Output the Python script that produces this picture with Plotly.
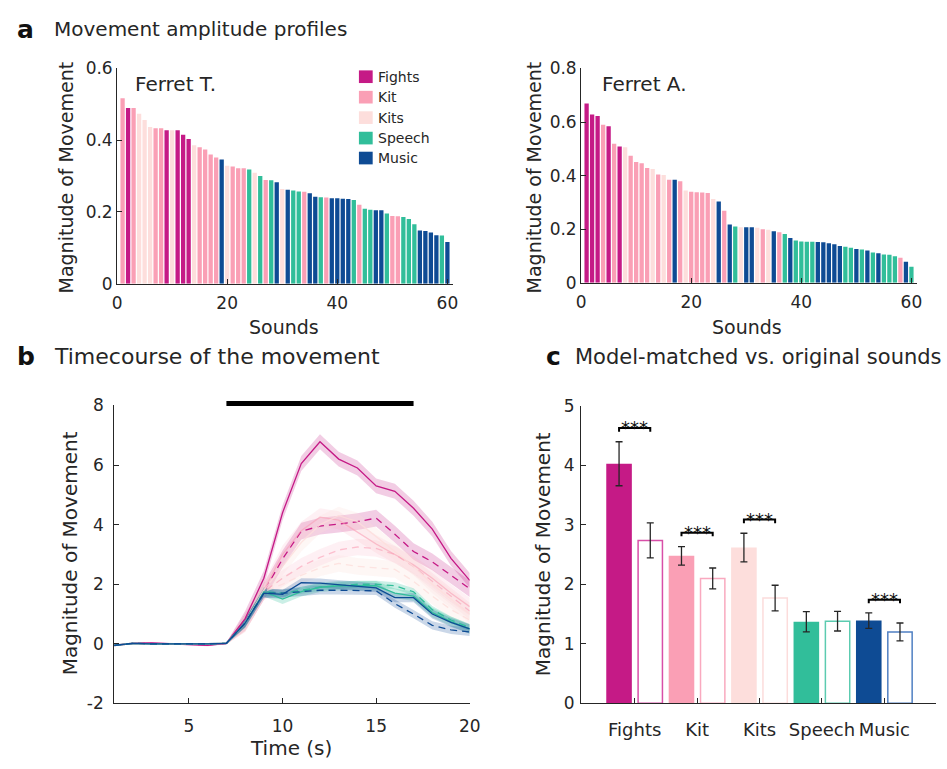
import plotly.graph_objects as go

W, H = 947, 769
FONT = "DejaVu Sans"
AX = "#262626"


def px(x):
    return x / W


def py(y):
    return 1 - y / H


# ---------------- data ----------------
CATEGORIES = ["Fights", "Kit", "Kits", "Speech", "Music"]
COLORS = {"Fights": "#C51A86", "Kit": "#FA9FB5", "Kits": "#FDDEDC",
          "Speech": "#31BE9A", "Music": "#0E4B94"}
OPEN_EDGE = {"Fights": "#D84FA8", "Kit": "#F9A9BF", "Kits": "#FCDCDB",
             "Speech": "#5CCBB0", "Music": "#4F7FC2"}
CODE = {"F": "Fights", "K": "Kit", "L": "Kits", "S": "Speech", "M": "Music"}

SOUND_INDEX = list(range(1, 61))

FERRET_T_CAT = list("KFKLLLKKFLFFFLKKKKMLKKKSLSKSMLMSSKMMSKMMMMSKSSMMSKKSSSMMMMSM")
FERRET_T_VAL = [0.517, 0.49, 0.49, 0.474, 0.456, 0.437, 0.433, 0.433, 0.428, 0.428,
                0.428, 0.415, 0.403, 0.386, 0.38, 0.374, 0.36, 0.352, 0.346, 0.329,
                0.327, 0.322, 0.322, 0.318, 0.309, 0.3, 0.289, 0.288, 0.283, 0.264,
                0.262, 0.26, 0.257, 0.256, 0.252, 0.242, 0.241, 0.24, 0.238, 0.238,
                0.237, 0.236, 0.233, 0.22, 0.209, 0.206, 0.205, 0.205, 0.196, 0.189,
                0.188, 0.186, 0.18, 0.166, 0.148, 0.147, 0.143, 0.135, 0.134, 0.116]

FERRET_A_CAT = list("FFFKFKFLKKKKLKLKMKLKKKKLMKMSLMMLKLMKSMSSSSMMMMMSSMSMSMSSSKMS")
FERRET_A_VAL = [0.669, 0.628, 0.622, 0.59, 0.584, 0.519, 0.509, 0.506, 0.474, 0.451,
                0.446, 0.428, 0.425, 0.404, 0.402, 0.384, 0.384, 0.379, 0.344, 0.34,
                0.338, 0.337, 0.335, 0.313, 0.303, 0.269, 0.217, 0.21, 0.207, 0.207,
                0.207, 0.205, 0.2, 0.198, 0.192, 0.188, 0.182, 0.167, 0.158, 0.154,
                0.153, 0.153, 0.152, 0.151, 0.147, 0.144, 0.137, 0.134, 0.131, 0.126,
                0.124, 0.12, 0.113, 0.11, 0.105, 0.104, 0.099, 0.093, 0.078, 0.06]

TIME_S = list(range(1, 21))
STIM_ON, STIM_OFF = 7, 17

FIGHTS_ORIG = [-0.05, 0.02, 0.03, 0.0, -0.02, -0.05, 0.02, 0.85, 2.2, 4.4,
               6.05, 6.78, 6.2, 5.9, 5.3, 5.12, 4.55, 3.85, 2.87, 2.13]
FIGHTS_MM = [-0.05, 0.02, 0.01, 0.0, -0.01, -0.03, 0.02, 0.72, 1.75, 2.85,
             3.78, 3.95, 4.02, 4.1, 4.22, 3.68, 3.1, 2.75, 2.3, 1.85]
KIT_ORIG = [-0.05, 0.02, 0.0, -0.01, 0.0, 0.0, 0.02, 0.7, 1.8, 3.0,
            3.8, 4.25, 4.15, 3.75, 3.35, 3.0, 2.65, 2.2, 1.7, 1.25]
KIT_MM = [-0.05, 0.02, 0.0, -0.01, 0.0, 0.0, 0.02, 0.7, 1.75, 2.2,
          2.6, 2.9, 3.15, 3.25, 3.2, 3.0, 2.6, 2.1, 1.6, 1.1]
KITS_ORIG = [-0.05, 0.02, 0.0, -0.01, 0.0, 0.0, 0.02, 0.7, 1.8, 2.6,
             3.4, 4.0, 4.3, 4.1, 3.6, 3.1, 2.6, 2.0, 1.5, 1.0]
KITS_MM = [-0.05, 0.02, 0.0, -0.01, 0.0, 0.0, 0.02, 0.7, 1.75, 2.0,
           2.3, 2.55, 2.7, 2.6, 2.55, 2.5, 2.1, 1.6, 1.15, 0.8]
SPEECH_ORIG = [-0.05, 0.02, 0.0, -0.01, 0.0, 0.0, 0.02, 0.7, 1.75, 1.5,
               1.75, 1.9, 1.95, 1.95, 1.95, 1.7, 1.6, 1.05, 0.75, 0.5]
SPEECH_MM = [-0.05, 0.02, 0.0, -0.01, 0.0, 0.0, 0.02, 0.7, 1.75, 1.7,
             1.8, 1.9, 1.95, 2.0, 2.0, 1.95, 1.75, 1.15, 0.8, 0.55]
MUSIC_ORIG = [-0.05, 0.02, 0.0, -0.01, 0.0, 0.0, 0.02, 0.7, 1.7, 1.66,
              2.05, 2.04, 1.99, 1.93, 1.88, 1.55, 1.55, 1.0, 0.72, 0.5]
MUSIC_MM = [-0.05, 0.02, 0.0, -0.01, 0.0, 0.0, 0.02, 0.7, 1.7, 1.7,
            1.75, 1.8, 1.8, 1.8, 1.78, 1.35, 1.0, 0.62, 0.47, 0.4]

# band half-widths (baseline, response)
SEM_BASE = 0.03
SEM_RESP = {"Fights": (0.25, 0.28), "Kit": (0.3, 0.28), "Kits": (0.3, 0.28),
            "Speech": (0.16, 0.12), "Music": (0.15, 0.14)}

ORIG_MEAN = [4.03, 2.48, 2.62, 1.37, 1.39]
ORIG_ERR = [0.37, 0.155, 0.24, 0.17, 0.13]
MM_MEAN = [2.74, 2.10, 1.77, 1.38, 1.20]
MM_ERR = [0.295, 0.175, 0.215, 0.165, 0.15]
SIG_GROUPS = [1, 2, 3, 5]
SIG_HEIGHT = [4.63, 2.87, 3.09, 1.74]

# ---------------- figure ----------------
fig = go.Figure()


def rgba(hexc, a):
    h = hexc.lstrip("#")
    r, g, b = int(h[0:2], 16), int(h[2:4], 16), int(h[4:6], 16)
    return f"rgba({r},{g},{b},{a})"


# panel a bars
for cats, vals, xa, ya in [(FERRET_T_CAT, FERRET_T_VAL, "x", "y"),
                           (FERRET_A_CAT, FERRET_A_VAL, "x2", "y2")]:
    fig.add_trace(go.Bar(x=SOUND_INDEX, y=vals, width=0.78,
                         marker=dict(color=[COLORS[CODE[c]] for c in cats], line=dict(width=0)),
                         xaxis=xa, yaxis=ya, showlegend=False))

# panel b timecourses
series = [("Fights", FIGHTS_ORIG, "solid", 1.0), ("Fights", FIGHTS_MM, "dash", 1.0),
          ("Kit", KIT_ORIG, "solid", 0.6), ("Kit", KIT_MM, "dash", 0.6),
          ("Kits", KITS_ORIG, "solid", 0.8), ("Kits", KITS_MM, "dash", 0.8),
          ("Speech", SPEECH_ORIG, "solid", 1.0), ("Speech", SPEECH_MM, "dash", 1.0),
          ("Music", MUSIC_ORIG, "solid", 1.0), ("Music", MUSIC_MM, "dash", 1.0)]
band_alpha = {"Fights": 0.22, "Kit": 0.15, "Kits": 0.25, "Speech": 0.25, "Music": 0.22}
for cat, vals, dash, op in series:
    s = SEM_RESP[cat][0 if dash == "solid" else 1]
    sem = [SEM_BASE if t < 8 else s for t in TIME_S]
    up = [v + e for v, e in zip(vals, sem)]
    lo = [v - e for v, e in zip(vals, sem)]
    fig.add_trace(go.Scatter(x=TIME_S + TIME_S[::-1], y=up + lo[::-1], fill="toself",
                             fillcolor=rgba(COLORS[cat], band_alpha[cat]), line=dict(width=0),
                             hoverinfo="skip", xaxis="x3", yaxis="y3", showlegend=False))
for cat, vals, dash, op in series:
    fig.add_trace(go.Scatter(x=TIME_S, y=vals, mode="lines",
                             line=dict(color=COLORS[cat], width=1.3, dash=dash if dash == "solid" else "7px,5px"),
                             opacity=op, xaxis="x3", yaxis="y3", showlegend=False))

# panel c bars
grp = list(range(1, 6))
fig.add_trace(go.Bar(x=[g - 0.25 for g in grp], y=ORIG_MEAN, width=0.41,
                     marker=dict(color=[COLORS[c] for c in CATEGORIES], line=dict(width=0)),
                     error_y=dict(type="data", array=ORIG_ERR, color=AX, thickness=1.3, width=3.5),
                     xaxis="x4", yaxis="y4", showlegend=False))
fig.add_trace(go.Bar(x=[g + 0.25 for g in grp], y=MM_MEAN, width=0.39,
                     marker=dict(color="white", line=dict(width=1.5, color=[OPEN_EDGE[c] for c in CATEGORIES])),
                     error_y=dict(type="data", array=MM_ERR, color=AX, thickness=1.3, width=3.5),
                     xaxis="x4", yaxis="y4", showlegend=False))

annotations = []
for g, h in zip(SIG_GROUPS, SIG_HEIGHT):
    fig.add_trace(go.Scatter(x=[g - 0.25, g - 0.25, g + 0.25, g + 0.25],
                             y=[h - 0.06, h, h, h - 0.06], mode="lines",
                             line=dict(color="black", width=2), xaxis="x4", yaxis="y4",
                             showlegend=False, cliponaxis=False))
    annotations.append(dict(x=g, y=h, xref="x4", yref="y4", text="***", showarrow=False,
                            yanchor="bottom", yshift=-12, font=dict(family=FONT, size=18, color="#111111")))


def ax(**kw):
    d = dict(showline=True, linecolor=AX, linewidth=1, ticks="inside", ticklen=5,
             tickcolor=AX, tickwidth=1, showgrid=False, zeroline=False, mirror=False,
             tickfont=dict(family=FONT, size=17, color=AX), fixedrange=True)
    d.update(kw)
    return d


fig.update_layout(
    width=W, height=H, margin=dict(l=0, r=0, t=0, b=0),
    paper_bgcolor="white", plot_bgcolor="white", barmode="overlay",
    font=dict(family=FONT, color=AX),
    xaxis=ax(domain=[px(114), px(455.6)], range=[0, 61], tickvals=[0, 20, 40, 60], anchor="y",
             ticklabelstandoff=4),
    yaxis=ax(domain=[py(281), py(60)], range=[0, 0.6], tickvals=[0, 0.2, 0.4, 0.6],
             ticktext=["0", "0.2", "0.4", "0.6"], anchor="x"),
    xaxis2=ax(domain=[px(586), px(927.6)], range=[0, 61], tickvals=[0, 20, 40, 60], anchor="y2",
              ticklabelstandoff=4),
    yaxis2=ax(domain=[py(280), py(60)], range=[0, 0.8], tickvals=[0, 0.2, 0.4, 0.6, 0.8],
              ticktext=["0", "0.2", "0.4", "0.6", "0.8"], anchor="x2"),
    xaxis3=ax(domain=[px(111), px(472.7)], range=[1, 20], tickvals=[5, 10, 15, 20], anchor="y3",
              ticklabelstandoff=7),
    yaxis3=ax(domain=[py(712), py(406)], range=[-2, 8], tickvals=[-2, 0, 2, 4, 6, 8],
              ticktext=["-2", "0", "2", "4", "6", "8"], anchor="x3", ticklabelstandoff=6),
    xaxis4=ax(domain=[px(586), 1.0], range=[0.142, 5.827], tickvals=grp, ticktext=CATEGORIES,
              tickfont=dict(family=FONT, size=18, color=AX), anchor="y4", ticklabelstandoff=10),
    yaxis4=ax(domain=[py(711.7), py(406.7)], range=[0, 5], tickvals=[0, 1, 2, 3, 4, 5], anchor="x4",
              ticklabelstandoff=2),
)


def text(x, y, s, size=20, xanchor="left", angle=0, bold=False, yanchor="middle"):
    annotations.append(dict(x=px(x), y=py(y), xref="paper", yref="paper", text=f"<b>{s}</b>" if bold else s,
                            showarrow=False, xanchor=xanchor, yanchor=yanchor, textangle=angle,
                            font=dict(family=FONT, size=size, color="#111111" if bold else AX)))


text(10, 20, "a", size=25, bold=True)
text(48, 19, "Movement amplitude profiles", size=20)
text(10, 356, "b", size=25, bold=True)
text(48, 356, "Timecourse of the movement", size=22)
text(548, 356, "c", size=25, bold=True)
text(578, 356, "Model-matched vs. original sounds", size=21)

text(130, 76, "Ferret T.", size=20)
text(605, 76, "Ferret A.", size=20)

text(62, 172, "Magnitude of Movement", size=19, xanchor="center", angle=-90)
text(538, 172, "Magnitude of Movement", size=19, xanchor="center", angle=-90)
text(284, 325, "Sounds", size=19, xanchor="center")
text(755, 325, "Sounds", size=19, xanchor="center")
text(67, 558, "Magnitude of Movement", size=20, xanchor="center", angle=-90)
text(291, 743, "Time (s)", size=20, xanchor="center", yanchor="top")
text(548, 559, "Magnitude of Movement", size=20, xanchor="center", angle=-90)

shapes = []
# stimulus period bar (time axis, placed just above the plot area)
shapes.append(dict(type="line", xref="x3", yref="paper", x0=STIM_ON, x1=STIM_OFF,
                   y0=py(404), y1=py(404), line=dict(color="black", width=5)))

# legend (manual)
leg_y = [68.5, 89.5, 110.5, 131.5, 152]
for cat, yc in zip(CATEGORIES, leg_y):
    shapes.append(dict(type="rect", xref="paper", yref="paper", x0=px(360), x1=px(374),
                       y0=py(yc + 6.5), y1=py(yc - 6.5), fillcolor=COLORS[cat], line=dict(width=0)))
    text(377, yc, cat, size=14)

fig.update_layout(annotations=annotations, shapes=shapes)
fig.write_html("out.html")
